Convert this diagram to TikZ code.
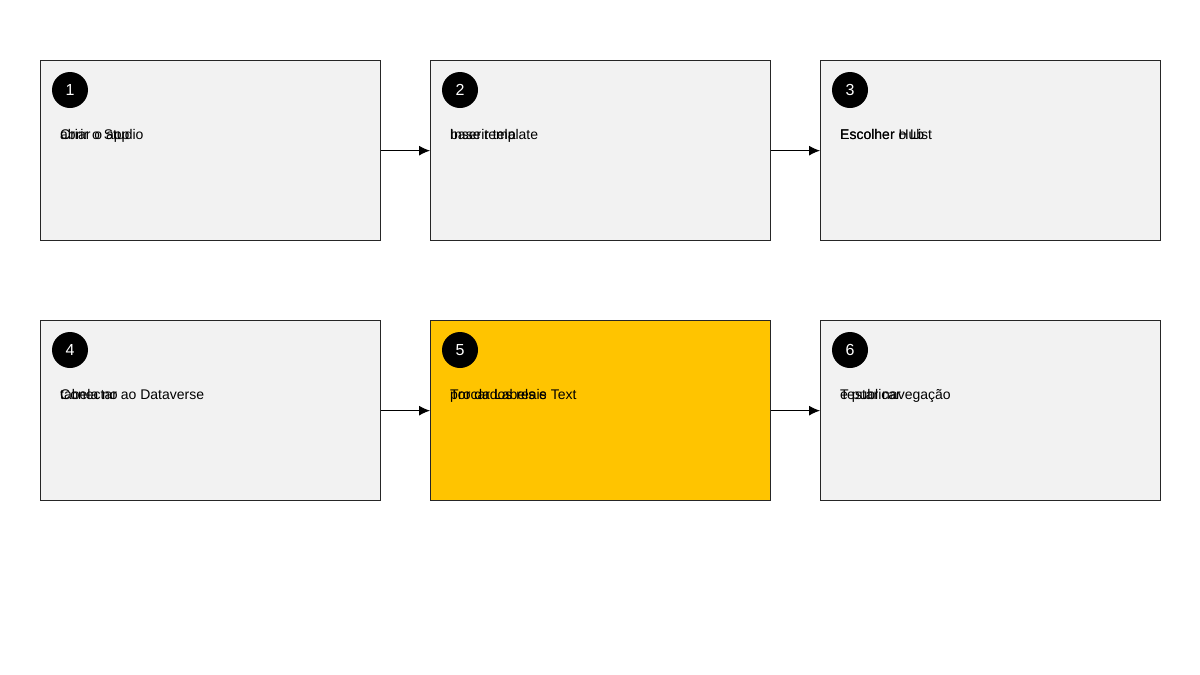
\documentclass[tikz,border=0pt]{standalone}
\usepackage{fontspec}
\setmainfont{Liberation Sans}
\usetikzlibrary{arrows.meta}
\begin{document}
\begin{tikzpicture}[x=1pt,y=-1pt,
  box/.style={draw=black!85,line width=1.3pt,fill=#1,minimum width=340pt,minimum height=180pt,inner sep=0pt,anchor=north west},
  badge/.style={circle,fill=black,text=white,minimum size=36pt,inner sep=0pt,font=\fontsize{16}{16}\selectfont},
  lbl/.style={anchor=base west,inner sep=0pt,font=\fontsize{14}{14}\selectfont},
  arr/.style={-{Latex[length=11pt,width=10pt]},line width=1pt}]
\useasboundingbox (0,0) rectangle (1200,675);
\fill[white] (0,0) rectangle (1200,675);
\foreach \n/\x/\y/\c in {1/40/60/black!5,2/430/60/black!5,3/820/60/black!5,4/40/320/black!5,5/430/320/{rgb,255:red,255;green,196;blue,0},6/820/320/black!5}{
  \node[box=\c] (b\n) at (\x,\y) {};
  \node[badge] (c\n) at (\x+30,\y+30) {\n};
}
\node[lbl] (t1a) at (60,139) {abrir o Studio};
\node[lbl] (t1b) at (60,139) {Criar o app};
\node[lbl] (t2a) at (450,139) {Inserir tela};
\node[lbl] (t2b) at (450,139) {base template};
\node[lbl] (t3a) at (840,139) {Escolher o List};
\node[lbl] (t3b) at (840,139) {Escolher Hub};
\node[lbl] (t4a) at (60,399) {Conectar ao Dataverse};
\node[lbl] (t4b) at (60,399) {tabela no};
\node[lbl] (t5a) at (450,399) {Trocar Labels e Text};
\node[lbl] (t5b) at (450,399) {por dados reais};
\node[lbl] (t6a) at (840,399) {Testar navegação};
\node[lbl] (t6b) at (840,399) {e publicar};
\draw[arr] (b1.east) -- (b2.west);
\draw[arr] (b2.east) -- (b3.west);
\draw[arr] (b4.east) -- (b5.west);
\draw[arr] (b5.east) -- (b6.west);
\end{tikzpicture}
\end{document}
